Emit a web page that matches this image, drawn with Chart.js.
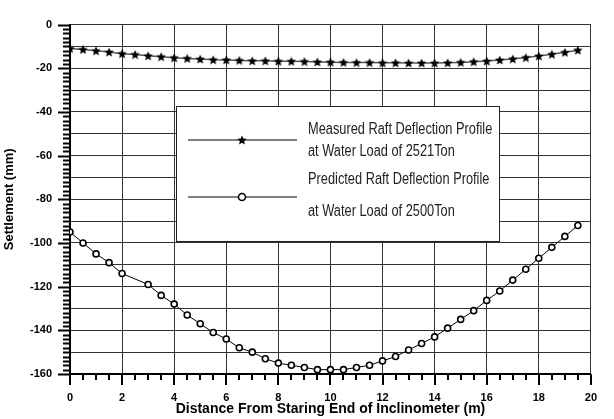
<!DOCTYPE html>
<html>
<head>
<meta charset="utf-8">
<script src="https://cdn.jsdelivr.net/npm/chart.js@4.4.1/dist/chart.umd.min.js"></script>
<style>
  html, body { margin: 0; padding: 0; background: #fff; }
  #wrap { width: 614px; height: 419px; }
</style>
</head>
<body>
<div id="wrap"><canvas id="settlement_chart" width="614" height="419"></canvas></div>
<script>
// distance along raft (m) and settlement (mm)
const measuredDistance = [0, 0.5, 1, 1.5, 2, 2.5, 3, 3.5, 4, 4.5, 5, 5.5, 6, 6.5, 7, 7.5, 8, 8.5, 9, 9.5,
    10, 10.5, 11, 11.5, 12, 12.5, 13, 13.5, 14, 14.5, 15, 15.5, 16, 16.5, 17, 17.5, 18, 18.5, 19, 19.5];
const measuredSettlement = [-10.9, -11.4, -12.0, -12.6, -13.3, -13.7, -14.3, -14.7, -15.2, -15.5,
    -15.8, -16.1, -16.2, -16.4, -16.6, -16.6, -16.8, -16.8, -16.9, -17.1,
    -17.2, -17.3, -17.4, -17.4, -17.5, -17.5, -17.6, -17.6, -17.6, -17.5,
    -17.3, -17.0, -16.7, -16.2, -15.7, -15.1, -14.4, -13.6, -12.7, -11.7];

const predictedDistance = [0, 0.5, 1, 1.5, 2, 3, 3.5, 4, 4.5, 5, 5.5, 6, 6.5, 7, 7.5, 8, 8.5, 9, 9.5,
    10, 10.5, 11, 11.5, 12, 12.5, 13, 13.5, 14, 14.5, 15, 15.5, 16, 16.5, 17, 17.5, 18, 18.5, 19, 19.5];
const predictedSettlement = [-95, -100, -105, -109, -114, -119, -124, -128, -133, -137, -141, -144,
    -148, -150, -153, -155, -156, -157, -158, -158, -158, -157, -156, -154, -152, -149, -146,
    -143, -139, -135, -131, -126.3, -122, -117, -112, -107, -102, -97, -92];

const legendLabels = [
    ['Measured Raft Deflection Profile', 'at Water Load of 2521Ton'],
    ['Predicted Raft Deflection Profile', 'at Water Load of 2500Ton']
];

function zip(xs, ys) {
    return xs.map(function (x, i) { return { x: x, y: ys[i] }; });
}

// filled five point star, used as point style
function makeStar(size) {
    var c = document.createElement('canvas');
    c.width = size; c.height = size;
    var g = c.getContext('2d');
    var cx = size / 2, cy = size / 2 + 0.4, ro = size / 2, ri = size / 4.4;
    g.beginPath();
    for (var i = 0; i < 10; i++) {
        var r = i % 2 === 0 ? ro : ri;
        var a = -Math.PI / 2 + i * Math.PI / 5;
        g.lineTo(cx + r * Math.cos(a), cy + r * Math.sin(a));
    }
    g.closePath();
    g.fillStyle = '#000';
    g.fill();
    return c;
}
const starImg = makeStar(10);

// outward tick marks like the original plot
const tickPlugin = {
    id: 'tickMarks',
    afterDraw: function (chart) {
        var ctx = chart.ctx, xs = chart.scales.x, ys = chart.scales.y;
        var left = chart.chartArea.left, bottom = chart.chartArea.bottom;
        ctx.save();
        ctx.strokeStyle = '#000';
        ctx.lineWidth = 2;
        ctx.beginPath();
        for (var v = -160; v <= 0; v += 2) {
            var py = Math.round(ys.getPixelForValue(v)) + 0.5;
            var len = v % 20 === 0 ? 12 : 7;
            ctx.moveTo(left - len, py);
            ctx.lineTo(left, py);
        }
        for (var k = 0; k <= 40; k++) {
            var d = k / 2;
            var px = Math.round(xs.getPixelForValue(d));
            var l2 = d % 2 === 0 ? 11 : 6;
            ctx.moveTo(px, bottom);
            ctx.lineTo(px, bottom + l2);
        }
        ctx.stroke();
        ctx.restore();
    }
};

// narrow text, the original uses a condensed face
function narrowText(ctx, txt, x, y) {
    ctx.save();
    ctx.translate(x, y);
    ctx.scale(0.8, 1);
    ctx.fillText(txt, 0, 0);
    ctx.restore();
}

// boxed legend inside the plot
const legendBoxPlugin = {
    id: 'legendBox',
    beforeDatasetsDraw: function (chart) {
        var ctx = chart.ctx;
        var bx = 176, by = 106, bw = 323, bh = 135;
        ctx.save();
        ctx.fillStyle = '#fff';
        ctx.fillRect(bx, by, bw, bh);
        ctx.strokeStyle = '#222';
        ctx.lineWidth = 1;
        ctx.strokeRect(bx + 0.5, by + 0.5, bw, bh);

        // measured sample
        ctx.strokeStyle = '#555';
        ctx.lineWidth = 1.5;
        ctx.beginPath();
        ctx.moveTo(188, 140); ctx.lineTo(297, 140);
        ctx.stroke();
        ctx.drawImage(starImg, 242 - 5, 140 - 5);

        // predicted sample
        ctx.strokeStyle = '#000';
        ctx.lineWidth = 1;
        ctx.beginPath();
        ctx.moveTo(188, 197); ctx.lineTo(297, 197);
        ctx.stroke();
        ctx.beginPath();
        ctx.arc(242, 197, 3.5, 0, Math.PI * 2);
        ctx.fillStyle = '#fff';
        ctx.fill();
        ctx.lineWidth = 1.6;
        ctx.stroke();

        ctx.fillStyle = '#222';
        ctx.font = '16px "Liberation Sans", Arial, sans-serif';
        ctx.textBaseline = 'middle';
        ctx.textAlign = 'left';
        narrowText(ctx, legendLabels[0][0], 308, 130);
        narrowText(ctx, legendLabels[0][1], 308, 152);
        narrowText(ctx, legendLabels[1][0], 308, 180);
        narrowText(ctx, legendLabels[1][1], 308, 212);
        ctx.restore();
    }
};

const tickFont = { family: '"Liberation Sans", Arial, sans-serif', size: 11, weight: 'bold' };
const titleFont = { family: '"Liberation Sans", Arial, sans-serif', size: 14, weight: 'bold' };

new Chart(document.getElementById('settlement_chart').getContext('2d'), {
    type: 'scatter',
    data: {
        datasets: [{
            label: legendLabels[0].join(' '),
            data: zip(measuredDistance, measuredSettlement),
            showLine: true,
            borderColor: '#555',
            borderWidth: 1.5,
            pointStyle: starImg,
            pointRadius: 4,
            tension: 0
        }, {
            label: legendLabels[1].join(' '),
            data: zip(predictedDistance, predictedSettlement),
            showLine: true,
            borderColor: '#000',
            borderWidth: 1,
            pointStyle: 'circle',
            pointRadius: 3,
            pointBorderWidth: 1.6,
            pointBackgroundColor: '#fff',
            pointBorderColor: '#000',
            tension: 0
        }]
    },
    options: {
        responsive: false,
        animation: false,
        layout: { padding: { top: 16, right: 8, left: 0, bottom: 0 } },
        plugins: {
            legend: { display: false },
            tooltip: { enabled: false }
        },
        scales: {
            x: {
                type: 'linear',
                min: 0, max: 20,
                afterFit: function (s) { s.height = 45; },
                ticks: {
                    stepSize: 0.5,
                    autoSkip: false,
                    maxRotation: 0,
                    padding: 17,
                    color: '#000',
                    font: tickFont,
                    callback: function (v) { return v % 2 === 0 ? String(v) : ''; }
                },
                grid: {
                    drawTicks: false,
                    lineWidth: 1,
                    color: function (c) { return c.tick && c.tick.value % 2 === 0 ? '#333' : 'rgba(0,0,0,0)'; }
                },
                border: { display: true, color: '#000', width: 2 },
                title: {
                    display: true,
                    text: 'Distance From Staring End of Inclinometer (m)',
                    color: '#000',
                    font: titleFont,
                    padding: { top: 0, bottom: 1 }
                }
            },
            y: {
                type: 'linear',
                min: -160, max: 0,
                afterFit: function (s) { s.width = 70; },
                ticks: {
                    stepSize: 2,
                    autoSkip: false,
                    padding: 18,
                    color: '#000',
                    font: tickFont,
                    callback: function (v) { return v % 20 === 0 ? String(v) : ''; }
                },
                grid: {
                    drawTicks: false,
                    lineWidth: 1,
                    color: function (c) { return c.tick && c.tick.value % 10 === 0 ? '#333' : 'rgba(0,0,0,0)'; }
                },
                border: { display: true, color: '#000', width: 2 },
                title: {
                    display: true,
                    text: 'Settlement (mm)',
                    color: '#000',
                    font: { family: titleFont.family, size: 13, weight: 'bold' },
                    padding: { top: 2, bottom: 0 }
                }
            }
        }
    },
    plugins: [legendBoxPlugin, tickPlugin]
});
</script>
</body>
</html>
